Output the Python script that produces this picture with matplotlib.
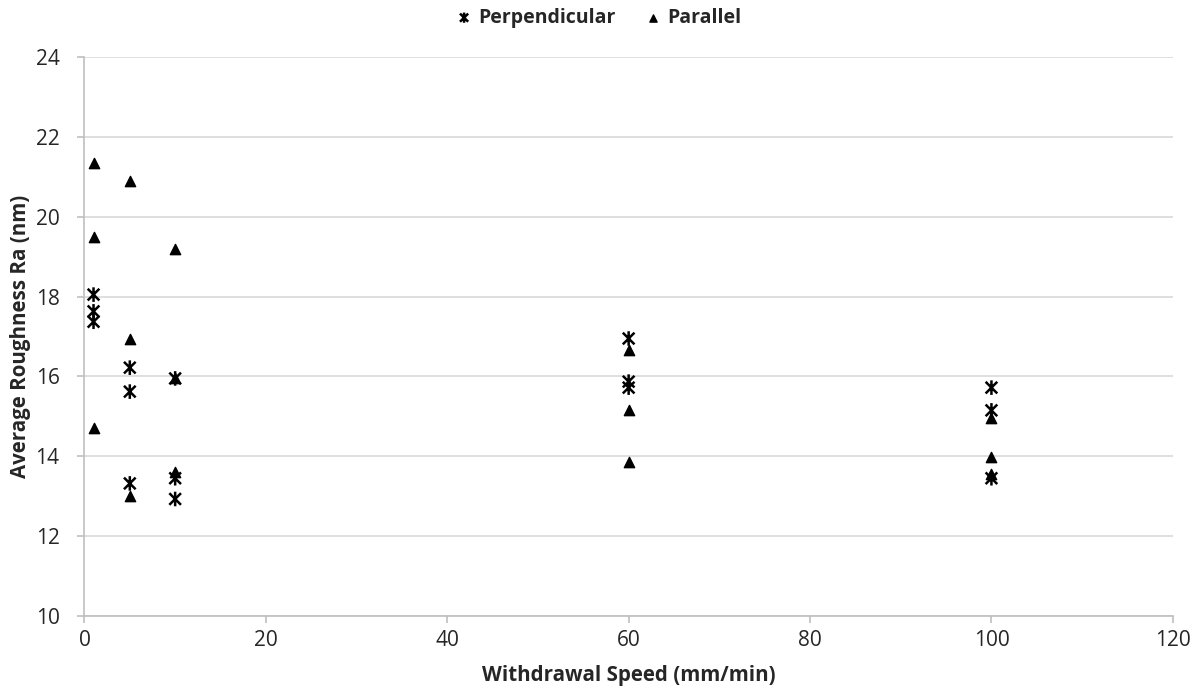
import numpy as np
import matplotlib.pyplot as plt
from matplotlib.path import Path

# roughness measurements, three samples per withdrawal speed
speed_perp = [1, 1, 1, 5, 5, 5, 10, 10, 10, 60, 60, 60, 100, 100, 100]
ra_perp = [18.05, 17.63, 17.37, 16.22, 15.62, 13.32, 15.95, 13.45, 12.93,
           16.95, 15.87, 15.72, 15.72, 15.15, 13.45]

speed_par = [1, 1, 1, 5, 5, 5, 10, 10, 10, 60, 60, 60, 100, 100, 100]
ra_par = [21.35, 19.5, 14.7, 20.9, 16.93, 13.0, 19.2, 15.95, 13.6,
          16.65, 15.17, 13.85, 14.97, 13.97, 13.55]

plt.rcParams['font.family'] = ['Open Sans', 'DejaVu Sans']

# asterisk marker: an X with a vertical stroke through it
star = Path([(-0.8, -0.8), (0.8, 0.8), (-0.8, 0.8), (0.8, -0.8), (0, -1), (0, 1)],
            [Path.MOVETO, Path.LINETO, Path.MOVETO, Path.LINETO, Path.MOVETO, Path.LINETO])

fig = plt.figure(figsize=(11.98, 6.96), dpi=100)
ax = fig.add_axes([0.0705, 0.115, 0.9085, 0.803])

ax.scatter(speed_perp, ra_perp, marker=star, s=110, facecolors='none',
           edgecolors='black', linewidths=1.8, label='Perpendicular', zorder=3)
ax.scatter(speed_par, ra_par, marker='^', s=55, color='black',
           label='Parallel', zorder=3)

ax.set_xlim(0, 120)
ax.set_ylim(10, 24)
ax.set_xticks(np.arange(0, 121, 20))
ax.set_yticks(np.arange(10, 25, 2))
ax.grid(axis='y', color='#d9d9d9', linewidth=1.2)
ax.set_axisbelow(True)

for side in ['top', 'right']:
    ax.spines[side].set_visible(False)
for side in ['left', 'bottom']:
    ax.spines[side].set_color('#bfbfbf')
    ax.spines[side].set_linewidth(1.2)
ax.tick_params(axis='both', colors='#bfbfbf', labelcolor='#262626',
               labelsize=15, length=5, width=1.2)
ax.tick_params(axis='x', pad=5)
ax.tick_params(axis='y', pad=13)

ax.set_xlabel('Withdrawal Speed (mm/min)', fontsize=14.8, fontweight='bold',
              color='#262626', labelpad=10)
ax.set_ylabel('Average Roughness Ra (nm)', fontsize=14.8, fontweight='bold',
              color='#262626', labelpad=3)

leg = fig.legend(loc='upper center', bbox_to_anchor=(0.5, 1.014), ncol=2,
                 frameon=False, handlelength=0.8, handletextpad=0.35,
                 columnspacing=1.5, markerscale=0.7,
                 prop={'size': 14, 'weight': 'bold'})
for t in leg.get_texts():
    t.set_color('#262626')

fig.savefig('out.png', dpi=100)
